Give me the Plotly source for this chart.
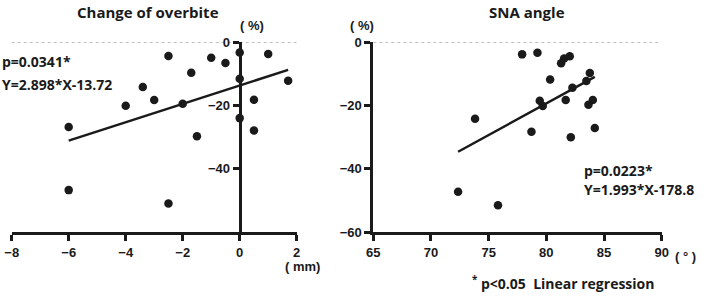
import plotly.graph_objects as go

# ---- data ----
overbite_x = [-6, -6, -2.5, -2.5, -3.4, -4, -3, -1.7, -2, -1.5, -1, -0.5, 0, 0, 0, 0.5, 0.5, 1, 1.7]
overbite_y = [-26.8, -46.7, -4.4, -50.9, -14.2, -20.1, -18.3, -9.7, -19.5, -29.7, -5.0, -6.6, -3.3, -11.6, -24.0, -18.2, -27.9, -3.8, -12.2]
overbite_slope, overbite_intercept = 2.898, -13.72

sna_x = [72.35, 75.81, 73.82, 77.90, 79.23, 78.71, 79.43, 79.69, 80.33, 81.28, 81.54, 82.03, 81.68, 82.12, 82.26, 83.47, 83.77, 83.65, 84.03, 84.20]
sna_y = [-47.2, -51.5, -24.2, -3.9, -3.4, -28.3, -18.5, -20.2, -11.8, -6.7, -5.2, -4.5, -18.3, -30.0, -14.4, -12.3, -9.8, -19.8, -18.3, -27.1]
sna_slope, sna_intercept = 1.993, -178.8

left_xticks = [-8, -6, -4, -2, 0, 2]
left_yticks = [0, -20, -40]
right_xticks = [65, 70, 75, 80, 85, 90]
right_yticks = [0, -20, -40, -60]

W, H = 710, 296
INK = "#1a1a1a"
FONT = "Open Sans"
TICKFONT = "Liberation Sans"

def px(x):
    return x / W

def py(y):
    return 1 - y / H

left_dom = [px(11.7), px(296.7)]
right_dom = [px(373.3), px(661.7)]
ydom = [py(232.3), py(42)]
left_xrange = [-8, 2]
yaxis_pos = left_dom[0] + (0 - left_xrange[0]) / (left_xrange[1] - left_xrange[0]) * (left_dom[1] - left_dom[0])

fig = go.Figure()

marker = dict(color=INK, size=8.5)
fig.add_trace(go.Scatter(x=overbite_x, y=overbite_y, mode="markers", marker=marker,
                         xaxis="x", yaxis="y", cliponaxis=False, showlegend=False))
lx = [min(overbite_x), max(overbite_x)]
fig.add_trace(go.Scatter(x=lx, y=[overbite_slope * v + overbite_intercept for v in lx], mode="lines",
                         line=dict(color=INK, width=2.5), xaxis="x", yaxis="y", showlegend=False))

fig.add_trace(go.Scatter(x=sna_x, y=sna_y, mode="markers", marker=marker,
                         xaxis="x2", yaxis="y2", cliponaxis=False, showlegend=False))
rx = [min(sna_x), max(sna_x)]
fig.add_trace(go.Scatter(x=rx, y=[sna_slope * v + sna_intercept for v in rx], mode="lines",
                         line=dict(color=INK, width=2.5), xaxis="x2", yaxis="y2", showlegend=False))

fig.update_layout(
    template="simple_white",
    width=W, height=H, margin=dict(l=0, r=0, t=0, b=0, autoexpand=False),
    paper_bgcolor="white", plot_bgcolor="white",
    xaxis=dict(domain=left_dom, range=left_xrange, tickvals=left_xticks, anchor="y"),
    yaxis=dict(domain=ydom, range=[-60, 0], tickvals=left_yticks, anchor="free", position=yaxis_pos),
    xaxis2=dict(domain=right_dom, range=[65, 90], tickvals=right_xticks, anchor="y2"),
    yaxis2=dict(domain=ydom, range=[-60, 0], tickvals=right_yticks, anchor="x2"),
)
axis_style = dict(showline=True, linecolor=INK, linewidth=3, ticks="outside", ticklen=6,
                  tickwidth=3, tickcolor=INK, showgrid=False, zeroline=False,
                  tickfont=dict(family=TICKFONT, size=13, color=INK, weight="bold"),
                  automargin=False, fixedrange=True, mirror=False)
fig.update_xaxes(**axis_style)
fig.update_yaxes(**axis_style)

# dotted zero reference lines
fig.add_shape(type="line", xref="x", yref="y", x0=-8, x1=2, y0=0, y1=0,
              line=dict(color="#333333", width=2, dash="dot"), layer="below")
fig.add_shape(type="line", xref="x2", yref="y2", x0=65, x1=90, y0=0, y1=0,
              line=dict(color="#333333", width=2, dash="dot"), layer="below")

def note(text, x, y, xanchor="center", size=14, family=FONT):
    fig.add_annotation(text=text, x=px(x), y=py(y), xref="paper", yref="paper",
                       xanchor=xanchor, yanchor="middle", showarrow=False,
                       font=dict(family=family, size=size, color=INK, weight="bold"))

note("Change of overbite", 148, 12, size=15)
note("( %)", 252, 26, size=13, family=TICKFONT)
note("p=0.0341*", 0, 62, xanchor="left")
note("Y=2.898*X-13.72", 0, 84, xanchor="left")
note("( mm)", 302, 266, size=13, family=TICKFONT)

note("SNA angle", 527, 12, size=15)
note("( %)", 362, 26, size=13, family=TICKFONT)
note("p=0.0223*", 582, 170, xanchor="left")
note("Y=1.993*X-178.8", 582, 189, xanchor="left")
note("( ° )", 685, 256, size=13, family=TICKFONT)
note("<sup>*</sup> p<0.05  Linear regression", 470, 283, xanchor="left")

fig.write_html("out.html", config={"displayModeBar": False},
               post_script="document.body.style.margin='0';document.body.style.padding='0';")
